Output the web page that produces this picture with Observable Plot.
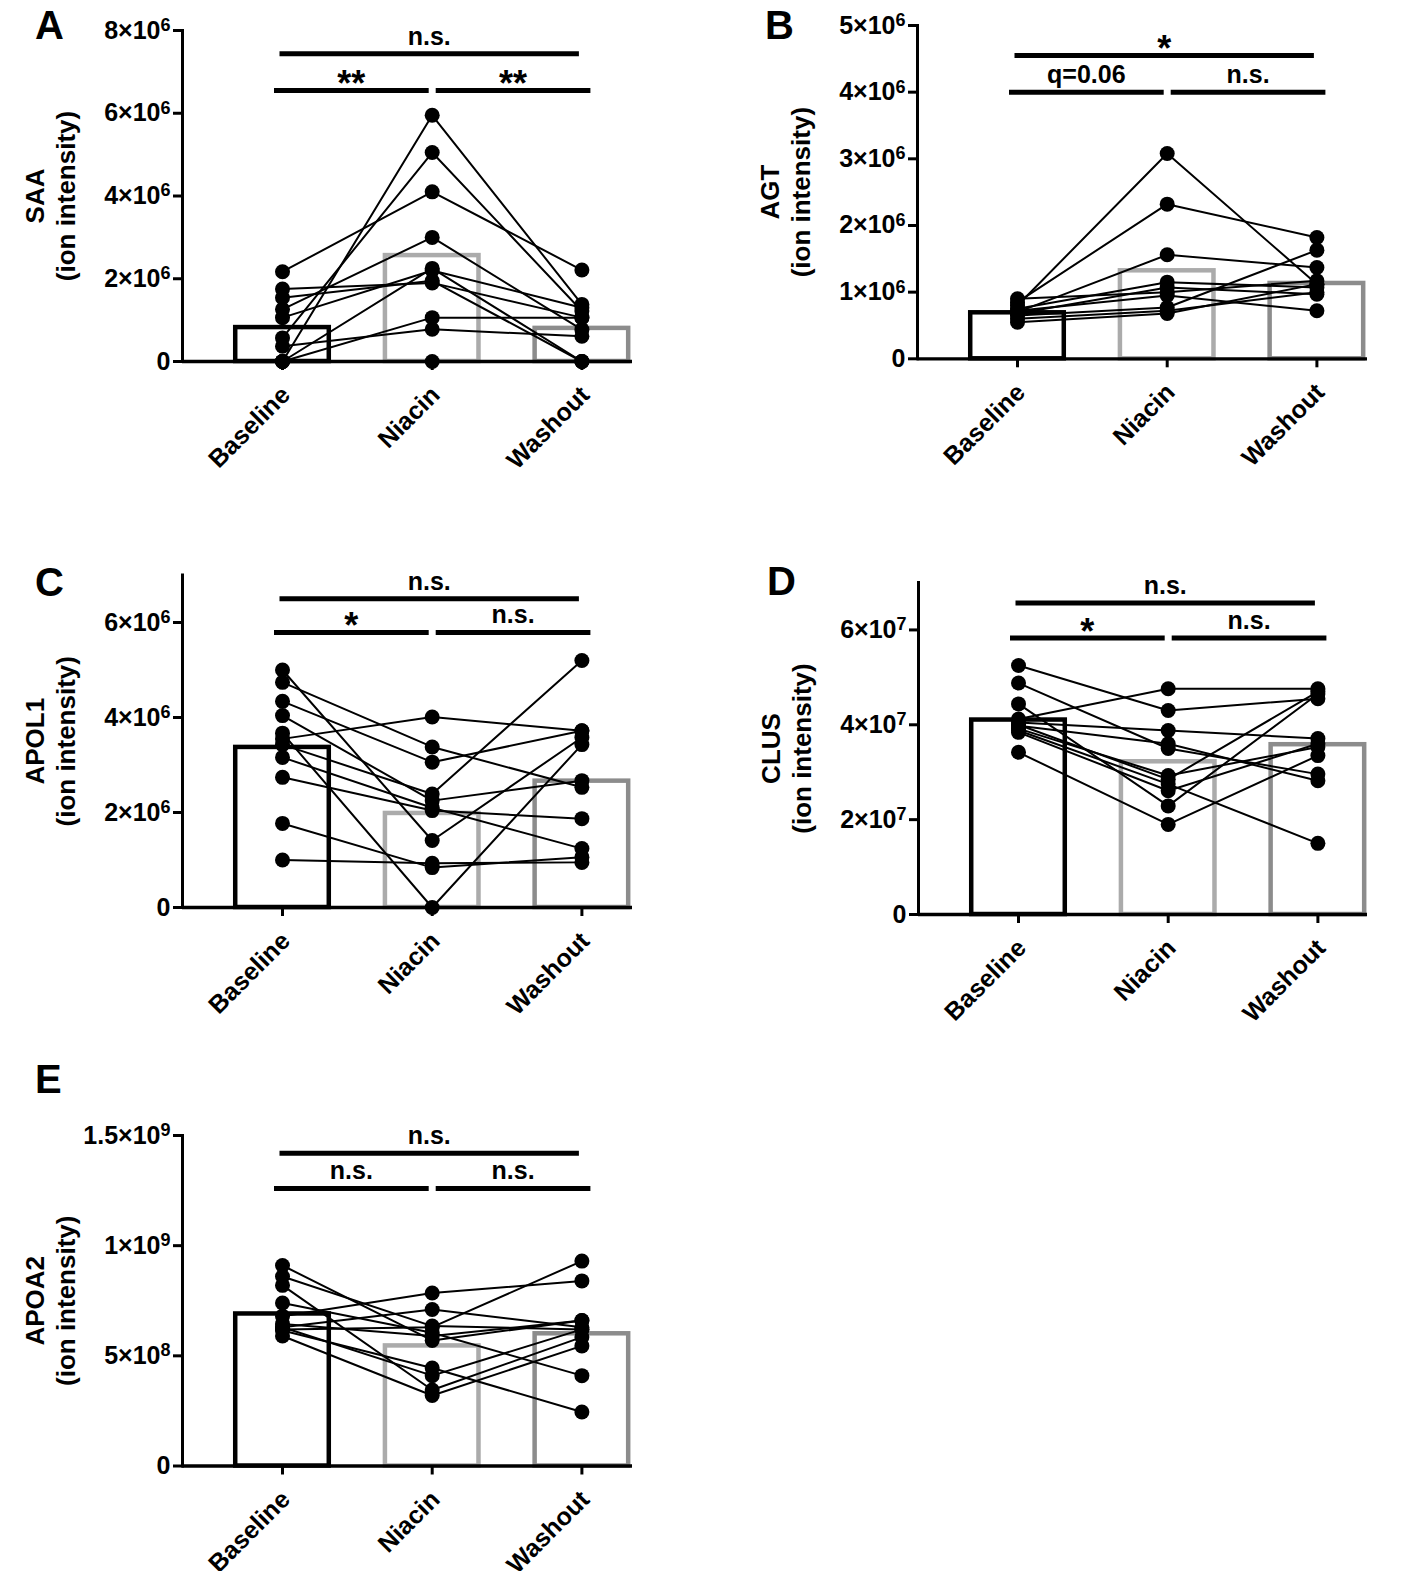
<!DOCTYPE html>
<html>
<head>
<meta charset="utf-8">
<script src="https://cdn.jsdelivr.net/npm/d3@7"></script>
<script src="https://cdn.jsdelivr.net/npm/@observablehq/plot@0.6"></script>
<style>
  body { margin: 0; background: #fff; }
  #fig { position: relative; width: 1418px; height: 1571px; overflow: hidden; background: #fff;
         font-family: "Liberation Sans", Arial, Helvetica, sans-serif; font-weight: bold; color: #000; }
  .panel { position: absolute; }
  .letter { position: absolute; font-size: 40px; line-height: 1.2; font-weight: bold; }
</style>
</head>
<body>
<div id="fig"></div>
<script>
// ---------- data ----------
const categories = ["Baseline", "Niacin", "Washout"];
const barColors = ["#000000", "#ababab", "#8c8c8c"];

// A: SAA
const saaBaseline = [0, 0.57e6, 2.17e6, 1.26e6, 0, 1.75e6, 1.54e6, 1.06e6, 0.37e6, 0, 0];
const saaNiacin   = [5.95e6, 5.05e6, 4.1e6, 3.0e6, 2.25e6, 1.9e6, 1.95e6, 2.2e6, 0.78e6, 1.06e6, 0];
const saaWashout  = [1.38e6, 1.22e6, 2.21e6, 0.77e6, 0, 1.06e6, 0, 1.3e6, 0.61e6, 1.06e6, 0];
const saaBars     = [0.82e6, 2.56e6, 0.8e6];
const saaTicks    = [0, 2e6, 4e6, 6e6, 8e6];
const saaTickLabels = ["0", "2×10^6", "4×10^6", "6×10^6", "8×10^6"];
const saaSig = [
  {from: "Baseline", to: "Washout", y: 7.44e6, label: "n.s."},
  {from: "Baseline", to: "Niacin", y: 6.55e6, label: "**"},
  {from: "Niacin", to: "Washout", y: 6.55e6, label: "**"}
];

// B: AGT
const agtBaseline = [0.80e6, 0.85e6, 0.70e6, 0.75e6, 0.68e6, 0.90e6, 0.72e6, 0.65e6, 0.60e6, 0.55e6];
const agtNiacin   = [3.08e6, 2.32e6, 1.56e6, 1.15e6, 1.07e6, 1.0e6, 0.95e6, 0.77e6, 0.72e6, 0.68e6];
const agtWashout  = [1.12e6, 1.82e6, 1.37e6, 1.07e6, 0.97e6, 1.17e6, 0.72e6, 1.63e6, 1.0e6, 1.12e6];
const agtBars     = [0.69e6, 1.32e6, 1.13e6];
const agtTicks    = [0, 1e6, 2e6, 3e6, 4e6, 5e6];
const agtTickLabels = ["0", "1×10^6", "2×10^6", "3×10^6", "4×10^6", "5×10^6"];
const agtSig = [
  {from: "Baseline", to: "Washout", y: 4.55e6, label: "*"},
  {from: "Baseline", to: "Niacin", y: 4.0e6, label: "q=0.06"},
  {from: "Niacin", to: "Washout", y: 4.0e6, label: "n.s."}
];

// C: APOL1
const apol1Baseline = [5.0e6, 4.74e6, 4.34e6, 4.04e6, 3.67e6, 3.55e6, 3.43e6, 3.16e6, 2.74e6, 1.77e6, 1.0e6];
const apol1Niacin   = [1.41e6, 3.38e6, 3.06e6, 2.25e6, 0, 4.01e6, 2.39e6, 2.1e6, 2.04e6, 0.84e6, 0.93e6];
const apol1Washout  = [3.58e6, 2.53e6, 3.72e6, 2.67e6, 3.43e6, 3.72e6, 5.2e6, 1.24e6, 1.87e6, 1.06e6, 0.95e6];
const apol1Bars     = [3.37e6, 1.98e6, 2.66e6];
const apol1Ticks    = [0, 2e6, 4e6, 6e6];
const apol1TickLabels = ["0", "2×10^6", "4×10^6", "6×10^6"];
const apol1Sig = [
  {from: "Baseline", to: "Washout", y: 6.5e6, label: "n.s."},
  {from: "Baseline", to: "Niacin", y: 5.79e6, label: "*"},
  {from: "Niacin", to: "Washout", y: 5.79e6, label: "n.s."}
];

// D: CLUS
const clusBaseline = [5.25e7, 4.88e7, 4.44e7, 4.12e7, 4.05e7, 3.98e7, 3.92e7, 3.88e7, 3.84e7, 3.42e7, 4.0e7];
const clusNiacin   = [4.30e7, 3.50e7, 2.29e7, 4.76e7, 3.88e7, 3.60e7, 2.93e7, 2.75e7, 2.61e7, 1.90e7, 2.85e7];
const clusWashout  = [4.55e7, 2.96e7, 4.65e7, 4.76e7, 3.71e7, 2.82e7, 3.53e7, 1.50e7, 3.60e7, 3.35e7, 4.7e7];
const clusBars     = [4.1e7, 3.22e7, 3.58e7];
const clusTicks    = [0, 2e7, 4e7, 6e7];
const clusTickLabels = ["0", "2×10^7", "4×10^7", "6×10^7"];
const clusSig = [
  {from: "Baseline", to: "Washout", y: 6.57e7, label: "n.s."},
  {from: "Baseline", to: "Niacin", y: 5.83e7, label: "*"},
  {from: "Niacin", to: "Washout", y: 5.83e7, label: "n.s."}
];

// E: APOA2
const apoa2Baseline = [9.1e8, 8.6e8, 8.2e8, 7.4e8, 6.8e8, 6.3e8, 6.45e8, 6.15e8, 5.9e8, 6.3e8, 6.2e8];
const apoa2Niacin   = [5.7e8, 6.35e8, 3.45e8, 6.05e8, 7.85e8, 7.1e8, 5.9e8, 4.45e8, 3.2e8, 4.1e8, 6.3e8];
const apoa2Washout  = [6.6e8, 6.2e8, 5.85e8, 4.1e8, 8.4e8, 6.3e8, 6.6e8, 2.45e8, 5.45e8, 6.2e8, 9.3e8];
const apoa2Bars     = [6.9e8, 5.45e8, 6.0e8];
const apoa2Ticks    = [0, 5e8, 1e9, 1.5e9];
const apoa2TickLabels = ["0", "5×10^8", "1×10^9", "1.5×10^9"];
const apoa2Sig = [
  {from: "Baseline", to: "Washout", y: 14.2e8, label: "n.s."},
  {from: "Baseline", to: "Niacin", y: 12.6e8, label: "n.s."},
  {from: "Niacin", to: "Washout", y: 12.6e8, label: "n.s."}
];

// ---------- drawing ----------
const STEP = 149.7;
const FONT = '"Liberation Sans", Arial, Helvetica, sans-serif';
const fig = document.getElementById("fig");

function superscripts(svg) {
  const ns = "http://www.w3.org/2000/svg";
  svg.querySelectorAll('[aria-label="y-axis tick label"] text').forEach(t => {
    const s = t.textContent;
    const k = s.indexOf("^");
    if (k < 0) return;
    t.textContent = "";
    const a = document.createElementNS(ns, "tspan");
    a.textContent = s.slice(0, k);
    const b = document.createElementNS(ns, "tspan");
    b.textContent = s.slice(k + 1);
    b.setAttribute("font-size", "0.72em");
    b.setAttribute("dy", "-0.42em");
    t.append(a, b);
  });
}

function drawPanel(p) {
  const rows = [];
  p.series.forEach((vals, ci) => vals.forEach((v, s) => rows.push({subject: s, condition: categories[ci], value: v})));
  const bars = categories.map((c, i) => ({condition: c, value: p.bars[i]}));
  const firstCenter = p.axisX + 100;
  const r0 = firstCenter - STEP / 2 - p.left;
  const r1 = r0 + 3 * STEP;

  const sigMarks = [];
  p.sig.forEach(b => {
    const i0 = categories.indexOf(b.from), i1 = categories.indexOf(b.to);
    const wide = i1 - i0 === 2;
    const shift = wide ? -3 : (i0 === 0 ? -6 : 6);
    const onlyStars = /^\*+$/.test(b.label);
    sigMarks.push(Plot.link([b], {x1: "from", x2: "to", y1: "y", y2: "y", stroke: "black",
      strokeWidth: 5, strokeLinecap: wide ? "butt" : "square", dx: shift}));
    sigMarks.push(Plot.text([b], {x: "from", y: "y", text: "label", dx: (i1 - i0) * STEP / 2 + shift,
      dy: onlyStars ? 6 : -9, lineAnchor: "bottom", fontSize: onlyStars ? 36 : 25, fontWeight: "bold"}));
  });

  const svg = Plot.plot({
    width: p.width,
    height: p.height,
    marginLeft: p.axisX - p.left,
    marginRight: p.left + p.width - p.frameRight,
    marginTop: p.yTop - p.top,
    marginBottom: p.top + p.height - p.yZero,
    x: {type: "band", domain: categories, range: [r0, r1], paddingInner: 0.375, paddingOuter: 0.1875, round: false},
    y: {domain: p.domain},
    color: {domain: categories, range: barColors},
    style: {fontFamily: FONT, fontWeight: "bold", fontSize: "25px", color: "black", background: "transparent", overflow: "visible"},
    marks: [
      Plot.barY(bars, {x: "condition", y: "value", fill: "white", stroke: "condition", strokeWidth: 4.5}),
      Plot.line(rows, {x: "condition", y: "value", z: "subject", stroke: "black", strokeWidth: 2}),
      Plot.dot(rows, {x: "condition", y: "value", r: 7.5, fill: "black"}),
      Plot.ruleY([0], {strokeWidth: 3.3}),
      Plot.frame({anchor: "left", strokeWidth: 3}),
      Plot.axisY({ticks: p.ticks, tickFormat: v => p.tickLabels[p.ticks.indexOf(v)], tickSize: 9, tickPadding: 3,
        strokeWidth: 3, fontSize: 25, fontWeight: "bold", label: null}),
      Plot.axisX({tickSize: 9, strokeWidth: 3, tickFormat: () => "", label: null}),
      Plot.text(categories, {x: d => d, text: d => d, frameAnchor: "bottom", rotate: -45, textAnchor: "end",
        lineAnchor: "bottom", dx: 9, dy: 35, fontSize: 25, fontWeight: "bold"}),
      Plot.text([p.title], {text: d => d, frameAnchor: "left", rotate: -90, dx: -133, lineAnchor: "middle",
        textAnchor: "middle", fontSize: 26, lineHeight: 1.2, fontWeight: "bold"}),
      ...sigMarks
    ]
  });
  superscripts(svg);
  const holder = document.createElement("div");
  holder.className = "panel";
  holder.style.left = p.left + "px";
  holder.style.top = p.top + "px";
  holder.appendChild(svg);
  fig.appendChild(holder);

  const letter = document.createElement("div");
  letter.className = "letter";
  letter.textContent = p.letter;
  letter.style.left = p.letterX + "px";
  letter.style.top = p.letterY + "px";
  fig.appendChild(letter);
}

// letter top = baseline - 0.905em - (1.2 - 1.117)/2 em  (40px font)
const panels = [
  {letter: "A", letterX: 35, letterY: 1, title: "SAA\n(ion intensity)",
   series: [saaBaseline, saaNiacin, saaWashout], bars: saaBars, ticks: saaTicks, tickLabels: saaTickLabels,
   domain: [0, 8e6], sig: saaSig,
   left: 0, top: 0, width: 709, height: 520, axisX: 182, frameRight: 632, yTop: 30, yZero: 361},
  {letter: "B", letterX: 765, letterY: 1, title: "AGT\n(ion intensity)",
   series: [agtBaseline, agtNiacin, agtWashout], bars: agtBars, ticks: agtTicks, tickLabels: agtTickLabels,
   domain: [0, 5e6], sig: agtSig,
   left: 709, top: 0, width: 709, height: 520, axisX: 917, frameRight: 1367, yTop: 25, yZero: 358.3},
  {letter: "C", letterX: 35, letterY: 558, title: "APOL1\n(ion intensity)",
   series: [apol1Baseline, apol1Niacin, apol1Washout], bars: apol1Bars, ticks: apol1Ticks, tickLabels: apol1TickLabels,
   domain: [0, 7e6], sig: apol1Sig,
   left: 0, top: 545, width: 709, height: 500, axisX: 182, frameRight: 632, yTop: 574.5, yZero: 907},
  {letter: "D", letterX: 767, letterY: 557, title: "CLUS\n(ion intensity)",
   series: [clusBaseline, clusNiacin, clusWashout], bars: clusBars, ticks: clusTicks, tickLabels: clusTickLabels,
   domain: [0, 7e7], sig: clusSig,
   left: 709, top: 545, width: 709, height: 500, axisX: 918, frameRight: 1367, yTop: 582, yZero: 914},
  {letter: "E", letterX: 35, letterY: 1055, title: "APOA2\n(ion intensity)",
   series: [apoa2Baseline, apoa2Niacin, apoa2Washout], bars: apoa2Bars, ticks: apoa2Ticks, tickLabels: apoa2TickLabels,
   domain: [0, 1.5e9], sig: apoa2Sig,
   left: 0, top: 1045, width: 709, height: 526, axisX: 182, frameRight: 632, yTop: 1135, yZero: 1465.5}
];
panels.forEach(drawPanel);
</script>
</body>
</html>
